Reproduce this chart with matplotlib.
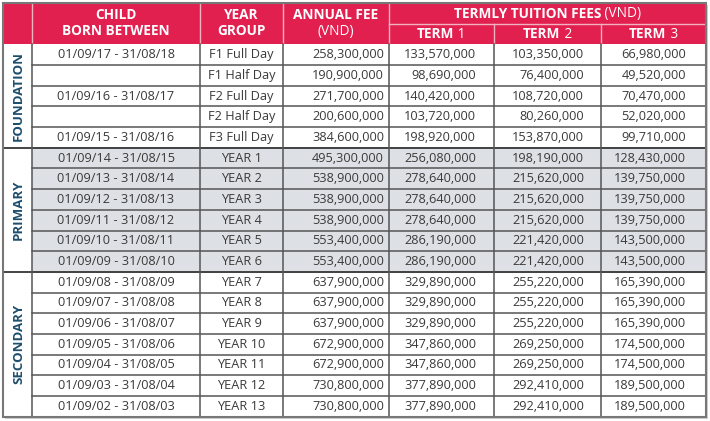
import matplotlib
matplotlib.use("Agg")
import matplotlib.pyplot as plt
from matplotlib.patches import Rectangle

plt.rcParams['font.family'] = ['Open Sans', 'DejaVu Sans']

sections = ["FOUNDATION", "PRIMARY", "SECONDARY"]
section_sizes = [5, 6, 7]
born_between = ["01/09/17 - 31/08/18", "", "01/09/16 - 31/08/17", "", "01/09/15 - 31/08/16",
                "01/09/14 - 31/08/15", "01/09/13 - 31/08/14", "01/09/12 - 31/08/13",
                "01/09/11 - 31/08/12", "01/09/10 - 31/08/11", "01/09/09 - 31/08/10",
                "01/09/08 - 31/08/09", "01/09/07 - 31/08/08", "01/09/06 - 31/08/07",
                "01/09/05 - 31/08/06", "01/09/04 - 31/08/05", "01/09/03 - 31/08/04",
                "01/09/02 - 31/08/03"]
year_groups = ["F1 Full Day", "F1 Half Day", "F2 Full Day", "F2 Half Day", "F3 Full Day",
               "YEAR 1", "YEAR 2", "YEAR 3", "YEAR 4", "YEAR 5", "YEAR 6",
               "YEAR 7", "YEAR 8", "YEAR 9", "YEAR 10", "YEAR 11", "YEAR 12", "YEAR 13"]
annual_fee = [258300000, 190900000, 271700000, 200600000, 384600000,
              495300000, 538900000, 538900000, 538900000, 553400000, 553400000,
              637900000, 637900000, 637900000, 672900000, 672900000, 730800000, 730800000]
term1 = [133570000, 98690000, 140420000, 103720000, 198920000,
         256080000, 278640000, 278640000, 278640000, 286190000, 286190000,
         329890000, 329890000, 329890000, 347860000, 347860000, 377890000, 377890000]
term2 = [103350000, 76400000, 108720000, 80260000, 153870000,
         198190000, 215620000, 215620000, 215620000, 221420000, 221420000,
         255220000, 255220000, 255220000, 269250000, 269250000, 292410000, 292410000]
term3 = [66980000, 49520000, 70470000, 52020000, 99710000,
         128430000, 139750000, 139750000, 139750000, 143500000, 143500000,
         165390000, 165390000, 165390000, 174500000, 174500000, 189500000, 189500000]
term_labels = ["1", "2", "3"]

W, H = 710, 421
fig = plt.figure(figsize=(W / 100, H / 100), dpi=100)
ax = fig.add_axes([0, 0, 1, 1])
ax.set_xlim(0, W)
ax.set_ylim(H, 0)
ax.axis('off')

RED = '#e2204f'
GREY_BG = '#dde1e6'
LINE = '#555555'
BLUE = '#1d4e6e'
TXT = '#3a3a3a'
HDR_LINE = '#f2b3c1'

cols = [3, 32, 200, 283, 389, 494, 601, 706]
top, hdr_bot, hdr_mid = 3, 44.3, 23.5
nrows = len(year_groups)
rh = (416.7 - hdr_bot) / nrows
bottom = hdr_bot + rh * nrows
FS = 9.2

# shadow
ax.add_patch(Rectangle((cols[0] + 2, top + 2), cols[-1] - cols[0], bottom - top,
                       facecolor='#d0d0d0', edgecolor='none', zorder=0))
# header
ax.add_patch(Rectangle((cols[0], top), cols[-1] - cols[0], hdr_bot - top,
                       facecolor=RED, edgecolor='none', zorder=1))
# body backgrounds
ax.add_patch(Rectangle((cols[0], hdr_bot), cols[-1] - cols[0], bottom - hdr_bot,
                       facecolor='white', edgecolor='none', zorder=1))
start = 0
for si, n in enumerate(section_sizes):
    if sections[si] == "PRIMARY":
        ax.add_patch(Rectangle((cols[1], hdr_bot + start * rh), cols[-1] - cols[1], n * rh,
                               facecolor=GREY_BG, edgecolor='none', zorder=1))
    start += n

# header lines
for x in cols[2:-1]:
    if x in (494, 601):
        ax.plot([x, x], [hdr_mid, hdr_bot], color=HDR_LINE, lw=1, zorder=2)
    else:
        ax.plot([x, x], [top, hdr_bot], color=HDR_LINE, lw=1, zorder=2)
ax.plot([cols[4], cols[-1]], [hdr_mid, hdr_mid], color=HDR_LINE, lw=1, zorder=2)
ax.plot([cols[1], cols[1]], [top, hdr_bot], color=HDR_LINE, lw=1, zorder=2)

# body lines
for i in range(1, nrows):
    y = hdr_bot + i * rh
    ax.plot([cols[1], cols[-1]], [y, y], color=LINE, lw=1.1, zorder=3)
start = 0
for n in section_sizes[:-1]:
    start += n
    y = hdr_bot + start * rh
    ax.plot([cols[0], cols[-1]], [y, y], color='#444444', lw=1.4, zorder=3)
for x in cols[1:-1]:
    ax.plot([x, x], [hdr_bot, bottom], color=LINE, lw=1.1, zorder=3)
# outer border
ax.add_patch(Rectangle((cols[0], top), cols[-1] - cols[0], bottom - top,
                       facecolor='none', edgecolor='#777777', lw=1.5, zorder=4))

# body text
for i in range(nrows):
    yc = hdr_bot + (i + 0.5) * rh
    ax.text((cols[1] + cols[2]) / 2, yc, born_between[i], ha='center', va='center',
            fontsize=FS, color=TXT, zorder=5)
    ax.text((cols[2] + cols[3]) / 2, yc, year_groups[i], ha='center', va='center',
            fontsize=FS, color=TXT, zorder=5)
    ax.text(384, yc, f"{annual_fee[i]:,}", ha='right', va='center', fontsize=FS, color=TXT, zorder=5)
    ax.text(476, yc, f"{term1[i]:,}", ha='right', va='center', fontsize=FS, color=TXT, zorder=5)
    ax.text(584, yc, f"{term2[i]:,}", ha='right', va='center', fontsize=FS, color=TXT, zorder=5)
    ax.text(686, yc, f"{term3[i]:,}", ha='right', va='center', fontsize=FS, color=TXT, zorder=5)

start = 0
for si, n in enumerate(section_sizes):
    yc = hdr_bot + (start + n / 2) * rh
    ax.text((cols[0] + cols[1]) / 2 + 1, yc, sections[si], rotation=90, ha='center', va='center',
            fontsize=9.5, fontweight='bold', color=BLUE, zorder=5)
    start += n

# header text
HFS = 9.8
ax.text((cols[1] + cols[2]) / 2, 15, "CHILD", ha='center', va='center', fontsize=HFS,
        fontweight='bold', color='white', zorder=5)
ax.text((cols[1] + cols[2]) / 2, 31, "BORN BETWEEN", ha='center', va='center', fontsize=HFS,
        fontweight='bold', color='white', zorder=5)
ax.text((cols[2] + cols[3]) / 2, 15, "YEAR", ha='center', va='center', fontsize=HFS,
        fontweight='bold', color='white', zorder=5)
ax.text((cols[2] + cols[3]) / 2, 31, "GROUP", ha='center', va='center', fontsize=HFS,
        fontweight='bold', color='white', zorder=5)
ax.text((cols[3] + cols[4]) / 2, 15, "ANNUAL FEE", ha='center', va='center', fontsize=HFS,
        fontweight='bold', color='white', zorder=5)
ax.text((cols[3] + cols[4]) / 2, 31, "(VND)", ha='center', va='center', fontsize=HFS,
        color='white', zorder=5)

fig.canvas.draw()
renderer = fig.canvas.get_renderer()


def mixed(xc, y, parts, fs):
    texts = []
    widths = []
    for s, w in parts:
        t = ax.text(0, y, s, ha='left', va='center', fontsize=fs, fontweight=w,
                    color='white', zorder=5)
        bb = t.get_window_extent(renderer=renderer)
        texts.append(t)
        widths.append(bb.width)
    total = sum(widths)
    x = xc - total / 2
    for t, w in zip(texts, widths):
        t.set_x(x)
        x += w


mixed((cols[4] + cols[-1]) / 2, 13.5, [("TERMLY TUITION FEES", 'bold'), (" (VND)", 'normal')], HFS)
for k in range(3):
    mixed((cols[4 + k] + cols[5 + k]) / 2, 34, [("TERM", 'bold'), (" " + term_labels[k], 'normal')], HFS)

fig.savefig("out.png", dpi=100)
